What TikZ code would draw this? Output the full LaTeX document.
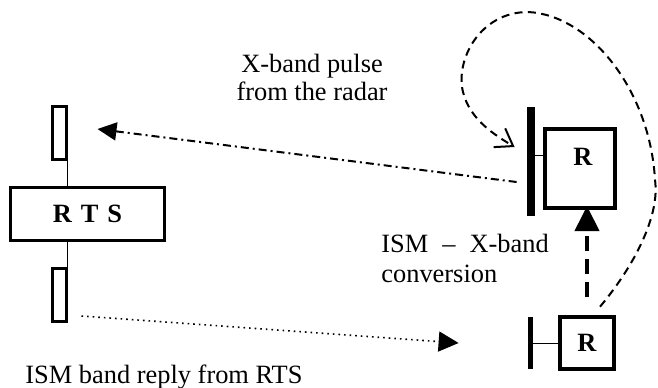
\documentclass[tikz,border=0pt]{standalone}
\usepackage{fontspec}
\setmainfont{Liberation Serif}
\usetikzlibrary{arrows.meta}

\begin{document}
\fontsize{13.2}{14}\selectfont
\begin{tikzpicture}[x=0.5pt,y=-0.5pt,
    ant/.style={draw,line width=1.5pt,inner sep=0,minimum width=7pt,minimum height=26.5pt},
    bar/.style={fill=black,inner sep=0},
    rbox/.style={draw,inner sep=0,font=\bfseries},
    txt/.style={inner sep=0}]
\useasboundingbox (0,0) rectangle (658,387);
% transponder on the left
\draw
    (87.5,214) node [draw,line width=1.7pt,minimum width=76.8pt,minimum height=26.3pt,font=\bfseries] (rts) {R\kern4.5pt T\kern4.5pt S}
    +(-28,-81) node [ant] (antup) {}
    +(-28,80.5) node [ant] (antdown) {};
\draw [line width=0.5pt] ([xshift=-0.5pt]antup.south east) -- ([xshift=-0.5pt]antup.south east |- rts.north);
\draw [line width=0.5pt] ([xshift=-0.5pt]antdown.north east) -- ([xshift=-0.5pt]antdown.north east |- rts.south);
% radar and repeater
\draw
    (531,161.5) node [bar,minimum width=4pt,minimum height=54.5pt] (bartop) {}
    +(49,7) node [rbox,line width=2pt,minimum width=35pt,minimum height=39.5pt] (rtop) {}
    +(-0.5,181.5) node [bar,minimum width=2.5pt,minimum height=26pt] (barbot) {}
    +(56,181.5) node [rbox,line width=1.7pt,minimum width=27pt,minimum height=26pt] (rbot) {R};
\node [txt,font=\bfseries] (rtoplabel) at (583,157) {R};
\draw [line width=0.5pt] ([yshift=3.25pt]bartop.east) -- ([yshift=3.25pt]bartop.east -| rtop.west);
\draw [line width=0.5pt] (barbot.east) -- (rbot.west);
% signals
\draw [line width=1pt,dash pattern=on 4pt off 2pt on 1pt off 2pt,-{Triangle[length=9.5pt,width=9pt]}]
    ([xshift=-5pt,yshift=-10.25pt]bartop.west) -- ([xshift=14.75pt,yshift=2pt]antup.east);
\draw [line width=0.8pt,dotted,-{Triangle[length=10pt,width=10pt]}]
    ([xshift=6.75pt,yshift=-10.75pt]antdown.east) -- ([xshift=-34.5pt]barbot.west);
\draw [line width=2pt,dash pattern=on 7.5pt off 4pt,-{Triangle[length=12.5pt,width=12pt]}]
    ([yshift=9pt]rbot.north) -- ([yshift=2pt]rbot.north |- rtop.south);
\draw [line width=1pt,dash pattern=on 4pt off 2.7pt,-{Straight Barb[length=8pt,width=11pt]}]
    ([xshift=6.5pt,yshift=4.3pt]rbot.north) .. controls (635,265) and (660,215) .. (655,180)
    .. controls (650,90) and (590,15) .. (528,12)
    .. controls (480,12) and (455,60) .. (463,92)
    .. controls (470,120) and (495,135) .. ([xshift=-6pt,yshift=7.25pt]bartop.west);
% labels
\node [txt,align=center,anchor=base] (pulse) at (312,100) {X-band pulse\\from the radar};
\node [txt,align=left,anchor=base west] (conv) at (381,282) {ISM\hspace{7pt}--\hspace{7pt}X-band\\[1pt]conversion};
\node [txt,anchor=base west] (reply) at (25,383) {ISM band reply from RTS};
\end{tikzpicture}
\end{document}
